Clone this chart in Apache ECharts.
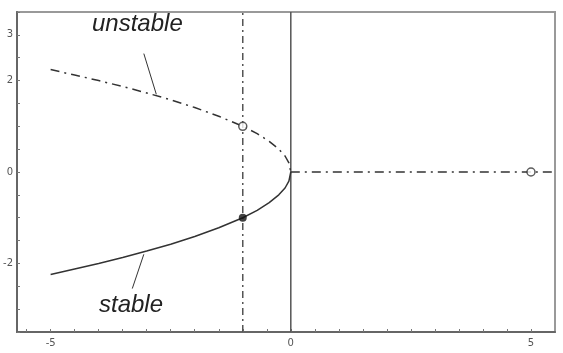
<!DOCTYPE html>
<html>
<head>
<meta charset="utf-8">
<script src="https://cdn.jsdelivr.net/npm/echarts@6/dist/echarts.min.js"></script>
<style>
  html, body { margin: 0; padding: 0; background: #fff; }
  #chart { width: 563px; height: 353px; }
</style>
</head>
<body>
<div id="chart"></div>
<script>
// parameter values along the branches
const branchX = [-5, -4.5, -4, -3.5, -3, -2.5, -2, -1.5, -1, -0.7, -0.45, -0.25, -0.12, -0.04, 0];
// upper (unstable) branch
const unstableY = [2.24, 2.12, 2.0, 1.87, 1.73, 1.58, 1.41, 1.22, 1.0, 0.84, 0.67, 0.5, 0.35, 0.2, 0];
// lower (stable) branch
const stableY = [-2.24, -2.12, -2.0, -1.87, -1.73, -1.58, -1.41, -1.22, -1.0, -0.84, -0.67, -0.5, -0.35, -0.2, 0];
// trivial branch after the turning point
const trivialX = [0, 5.5];
const trivialY = [0, 0];
// marked points
const openPoints = [[-1, 1.0], [5, 0]];
const filledPoints = [[-1, -1.0]];
// leader lines of the two annotations
const unstableLeader = [[-3.06, 2.59], [-2.8, 1.7]];
const stableLeader = [[-3.06, -1.8], [-3.3, -2.55]];
// tick positions and labels
const xTicks = [-5.5, -5, -4.5, -4, -3.5, -3, -2.5, -2, -1.5, -1, -0.5, 0, 0.5, 1, 1.5, 2, 2.5, 3, 3.5, 4, 4.5, 5];
const xLabelValues = [-5, 0, 5];
const yLabels = { '3': '3', '2': '2', '0': '0', '-2': '-2' };

const ink = '#333';
const zip = (xs, ys) => xs.map((x, i) => [x, ys[i]]);

const chart = echarts.init(document.getElementById('chart'));

const lineSeries = (data, type, extra) => Object.assign({
    type: 'line',
    data,
    symbol: 'none',
    silent: true,
    smooth: false,
    lineStyle: { color: ink, width: 1.5, type }
}, extra || {});

const option = {
    animation: false,
    backgroundColor: '#fff',
    grid: {
        left: 17, right: 8, top: 12, bottom: 21,
        show: true, borderColor: '#999', borderWidth: 2
    },
    xAxis: {
        type: 'value',
        min: -5.7, max: 5.5,
        axisLine: { show: true, onZero: false, lineStyle: { color: '#666', width: 2 } },
        axisTick: { show: true, inside: true, length: 3, customValues: xTicks, lineStyle: { color: '#777' } },
        axisLabel: {
            color: '#555', fontSize: 10, margin: 6, fontFamily: 'DejaVu Sans',
            customValues: xLabelValues
        },
        splitLine: { show: false }
    },
    yAxis: {
        type: 'value',
        min: -3.5, max: 3.5, interval: 0.5,
        axisLine: { show: true, onZero: false, lineStyle: { color: '#666', width: 2 } },
        axisTick: { show: true, inside: true, length: 3, lineStyle: { color: '#777' } },
        axisLabel: {
            color: '#555', fontSize: 10, margin: 4, fontFamily: 'DejaVu Sans',
            formatter: v => yLabels[String(v)] || ''
        },
        splitLine: { show: false }
    },
    series: [
        // vertical guide lines
        lineSeries([[0, -3.5], [0, 3.5]], 'solid', { lineStyle: { color: '#555', width: 1.5 } }),
        lineSeries([[-1, -3.5], [-1, 3.5]], [7, 4, 2, 4], { lineStyle: { color: '#555', width: 1.5, type: [7, 4, 2, 4] } }),
        // branches
        lineSeries(zip(branchX, unstableY), [9, 5, 2, 5]),
        lineSeries(zip(branchX, stableY), 'solid'),
        lineSeries(zip(trivialX, trivialY), [9, 5, 2, 5]),
        // leader lines
        lineSeries(unstableLeader, 'solid', { lineStyle: { color: ink, width: 1 } }),
        lineSeries(stableLeader, 'solid', { lineStyle: { color: ink, width: 1 } }),
        {
            type: 'scatter',
            data: openPoints,
            symbol: 'circle',
            symbolSize: 8,
            silent: true,
            z: 5,
            itemStyle: { color: '#fff', borderColor: ink, borderWidth: 1.5 }
        },
        {
            type: 'scatter',
            data: filledPoints,
            symbol: 'circle',
            symbolSize: 8,
            silent: true,
            z: 5,
            itemStyle: { color: '#111' }
        }
    ],
    graphic: [
        {
            type: 'text', left: 92, top: 12,
            style: { text: 'unstable', fontSize: 24, fontStyle: 'italic', fontFamily: 'Liberation Sans', fill: '#222' }
        },
        {
            type: 'text', left: 99, top: 293,
            style: { text: 'stable', fontSize: 24, fontStyle: 'italic', fontFamily: 'Liberation Sans', fill: '#222' }
        }
    ]
};

chart.setOption(option);
</script>
</body>
</html>
